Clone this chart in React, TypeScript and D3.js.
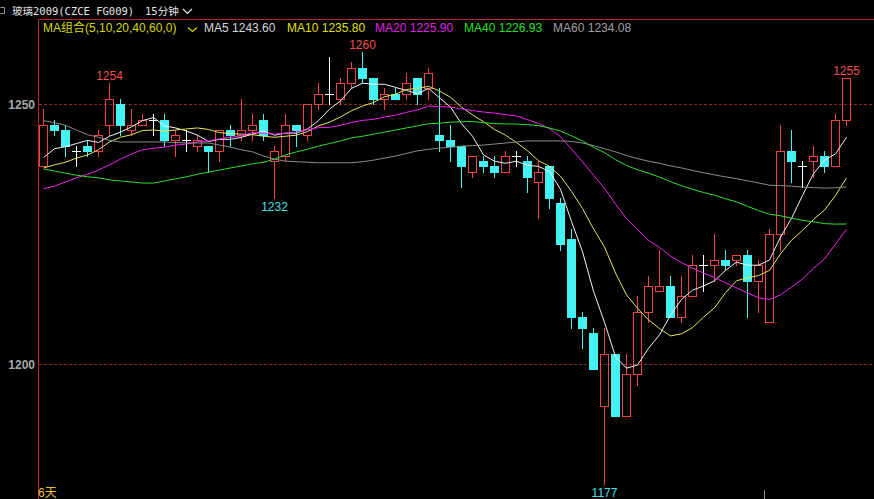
import React from 'react';
import * as d3 from 'd3';

// ---------- data ----------
const opens = [1238,1246,1245,1241,1242,1241,1246,1250,1245,1246, 1247,1247,1243,1243,1242,1242,1241,1245,1244,1245, 1247,1239,1240,1246,1244,1250,1252,1251,1254,1257, 1255,1251,1252,1252,1255,1253,1244,1243,1242,1237, 1239,1238,1237,1240,1239,1235,1238,1231,1224,1209, 1206,1192,1202,1190,1198,1210,1214,1215,1209,1213, 1219,1219,1220,1220,1221,1216,1208,1225,1241,1238, 1239,1240,1238,1247];
const highs = [1249,1247,1246,1242,1243,1245,1254,1251,1249,1248, 1248,1248,1245,1245,1244,1242,1245,1246,1251,1248, 1248,1242,1248,1246,1250,1254,1259,1255,1258,1260, 1255,1253,1253,1256,1255,1257,1253,1246,1242,1240, 1240,1240,1241,1241,1240,1239,1238,1232,1226,1210, 1207,1207,1202,1202,1213,1217,1222,1217,1217,1221, 1221,1225,1222,1221,1222,1220,1226,1246,1245,1239, 1242,1241,1248,1255];
const lows = [1238,1244,1240,1238,1240,1240,1244,1244,1244,1246, 1244,1242,1240,1241,1241,1237,1239,1242,1243,1243, 1243,1232,1239,1242,1243,1249,1250,1250,1253,1254, 1250,1249,1251,1251,1250,1251,1241,1239,1234,1236, 1237,1236,1237,1238,1233,1228,1230,1222,1207,1203, 1199,1177,1190,1190,1196,1208,1214,1209,1208,1213, 1214,1216,1218,1219,1209,1210,1208,1222,1235,1234, 1236,1237,1238,1246];
const closes = [1246,1245,1242,1241,1241,1244,1251,1246,1246,1247, 1247,1243,1244,1243,1243,1241,1245,1244,1245,1246, 1244,1241,1246,1245,1250,1252,1252,1254,1257,1255, 1251,1252,1251,1254,1252,1256,1243,1242,1238,1240, 1238,1237,1240,1240,1236,1237,1232,1223,1209,1207, 1199,1202,1190,1198,1210,1215,1215,1209,1213,1219, 1219,1220,1219,1221,1216,1219,1225,1241,1239,1238, 1240,1238,1247,1255];

const ma5Lead = [1239.7, 1241.4, 1241.8, 1242.4];
const ma10Lead = [1237.7, 1238.3, 1238.8, 1239.6, 1240.2, 1241.2, 1242.7, 1243.6, 1244.1];
const ma20Lead = [1233.7, 1234.2, 1235.0, 1235.8, 1236.5, 1237.3, 1238.3, 1239.4, 1240.4, 1241.2, 1241.5, 1241.7, 1242.1, 1242.3, 1242.7, 1242.9, 1243.3, 1243.6, 1243.9];
const ma40Lead = [1237.5,1237.1,1236.7,1236.3,1236.0,1235.8,1235.4,1235.2,1235.0,1234.8, 1234.8,1235.2,1235.6,1236.0,1236.5,1236.9,1237.3,1237.7,1238.1,1238.5, 1238.8,1239.4,1240.2,1240.8,1241.3,1241.9,1242.4,1242.9,1243.5,1243.8, 1244.2,1244.6,1245.0,1245.4,1245.8,1246.2,1246.3,1246.5,1246.6];
const ma60Lead = [1246.8,1246.4,1245.9,1245.0,1244.1,1243.6,1243.0,1242.7,1242.7,1242.7, 1242.7,1242.7,1242.6,1242.5,1242.5,1242.5,1242.1,1241.7,1241.2,1240.8, 1240.0,1239.4,1239.0,1238.9,1238.8,1238.7,1238.7,1238.7,1238.7,1238.9, 1239.2,1239.6,1240.0,1240.5,1241.0,1241.3,1241.5,1241.7,1241.9,1242.0, 1242.1,1242.3,1242.5,1242.7,1242.9,1242.9,1242.9,1242.9,1242.8,1242.5, 1242.0,1241.4,1240.8,1240.1,1239.5,1239.0,1238.6,1238.1,1237.7];

const maPeriods = [5, 10, 20, 40, 60];
const maLeads = [ma5Lead, ma10Lead, ma20Lead, ma40Lead, ma60Lead];
const maNames = ['MA5', 'MA10', 'MA20', 'MA40', 'MA60'];
const maValues = ['1243.60', '1235.80', '1225.90', '1226.93', '1234.08'];
const maLineColors = ['#f4f4f4', '#e6e65a', '#f020f0', '#30e030', '#8c8c8c'];
const maTextColors = ['#d8d8d8', '#e0e000', '#e020e0', '#20e020', '#a0a0a0'];
const maLegendX = [204, 287, 375, 464, 553];

const yTicks = [1200, 1250];
const highMarks = [6, 29, 73];
const lowMarks = [21, 51];

const W = 874;
const H = 499;
const UP = '#f04545';
const DOWN = '#45f2f2';

function movingAverage(period: number, lead: number[]) {
  return closes.map((_, i) =>
    i >= period - 1 ? d3.mean(closes.slice(i - period + 1, i + 1)) as number : lead[i]
  );
}

export default function App() {
  const x = d3.scaleBand<number>().domain(d3.range(closes.length)).range([37.5, 851.5]);
  const y = d3.scaleLinear().domain([1200, 1250]).range([364, 104]);
  const cx = (i: number) => Math.floor((x(i) as number) + x.bandwidth() / 2);
  const ry = (v: number) => Math.round(y(v));

  const maSeries = maPeriods.map((p, k) => movingAverage(p, maLeads[k]));
  const line = d3.line<number>().x((_, i) => cx(i) + 0.5).y((d) => y(d));

  const candles = closes.map((c, i) => {
    const o = opens[i], h = highs[i], l = lows[i];
    const xc = cx(i);
    const wx = xc + 0.5;
    if (o === c) {
      return (
        <g key={i} stroke="#ffffff" strokeWidth={1} shapeRendering="crispEdges">
          <line x1={wx} x2={wx} y1={ry(h)} y2={ry(l) + 1} />
          <line x1={xc - 4} x2={xc + 5} y1={ry(c) + 0.5} y2={ry(c) + 0.5} />
        </g>
      );
    }
    if (c > o) {
      const top = ry(c), bot = ry(o);
      return (
        <g key={i} stroke={UP} strokeWidth={1} fill="none" shapeRendering="crispEdges">
          {ry(h) < top && <line x1={wx} x2={wx} y1={ry(h)} y2={top} />}
          {ry(l) > bot && <line x1={wx} x2={wx} y1={bot + 1} y2={ry(l) + 1} />}
          <rect x={xc - 4 + 0.5} y={top + 0.5} width={8} height={Math.max(1, bot - top)} />
        </g>
      );
    }
    const top = ry(o), bot = ry(c);
    return (
      <g key={i} shapeRendering="crispEdges">
        <line x1={wx} x2={wx} y1={ry(h)} y2={ry(l) + 1} stroke={DOWN} strokeWidth={1} />
        <rect x={xc - 4} y={top} width={9} height={Math.max(1, bot - top + 1)} fill={DOWN} />
      </g>
    );
  });

  return (
    <svg
      width={W}
      height={H}
      style={{ position: 'fixed', left: 0, top: 0, background: '#000', display: 'block' }}
      fontFamily="'Liberation Sans', Arial, 'Noto Sans CJK SC', sans-serif"
    >
      <rect x={0} y={0} width={W} height={H} fill="#000" />

      {/* title row */}
      <path d="M0.5,7.5 H4.5 V13.5 H0.5" stroke="#9a9a9a" fill="none" />
      <text x={12} y={15} fontSize={10.5} fill="#e6e6e6" fontFamily="'DejaVu Sans Mono', 'Noto Sans CJK SC', monospace">
        玻璃2009(CZCE FG009)
      </text>
      <text x={145} y={15} fontSize={10.5} fill="#e6e6e6" fontFamily="'DejaVu Sans Mono', 'Noto Sans CJK SC', monospace">
        15分钟
      </text>
      <path d="M183,9 L187.5,13.5 L192,9" stroke="#e6e6e6" fill="none" strokeWidth={1.2} />

      {/* frame */}
      <line x1={38} x2={W} y1={19.5} y2={19.5} stroke="#b42828" strokeWidth={1} />
      <line x1={38.5} x2={38.5} y1={19} y2={H} stroke="#b42828" strokeWidth={1} />

      {/* legend */}
      <text x={43} y={32} fontSize={12} fill="#d6d600">MA组合(5,10,20,40,60,0)</text>
      <path d="M188,27.5 L192.5,31.5 L197,27.5" stroke="#d6d600" fill="none" strokeWidth={1.2} />
      {maNames.map((n, k) => (
        <text key={n} x={maLegendX[k]} y={32} fontSize={12} fill={maTextColors[k]}>
          {n} {maValues[k]}
        </text>
      ))}

      {/* grid + y labels */}
      {yTicks.map((t) => (
        <g key={t}>
          <line x1={39} x2={W} y1={ry(t) + 0.5} y2={ry(t) + 0.5} stroke="#8a2626" strokeDasharray="3,2" />
          <text x={35} y={ry(t) + 4.5} fontSize={12} fontWeight="bold" fill="#a8a8a8" textAnchor="end">
            {t}
          </text>
        </g>
      ))}

      {/* candles */}
      {candles}

      {/* moving averages */}
      {maSeries.map((s, k) => (
        <path key={k} d={line(s) as string} fill="none" stroke={maLineColors[k]} strokeWidth={1} />
      ))}

      {/* extreme labels */}
      {highMarks.map((i) => (
        <text key={'h' + i} x={cx(i) + 0.5} y={y(highs[i]) - 3} fontSize={12} fill="#f05050" textAnchor="middle">
          {highs[i]}
        </text>
      ))}
      {lowMarks.map((i) => (
        <text key={'l' + i} x={cx(i) + 0.5} y={y(lows[i]) + 13} fontSize={12} fill="#45e0e0" textAnchor="middle">
          {lows[i]}
        </text>
      ))}

      {/* bottom markers */}
      <text x={38} y={497} fontSize={12} fill="#e8c040">6天</text>
      <line x1={764.5} x2={764.5} y1={490} y2={H} stroke="#8c8c8c" />
    </svg>
  );
}
